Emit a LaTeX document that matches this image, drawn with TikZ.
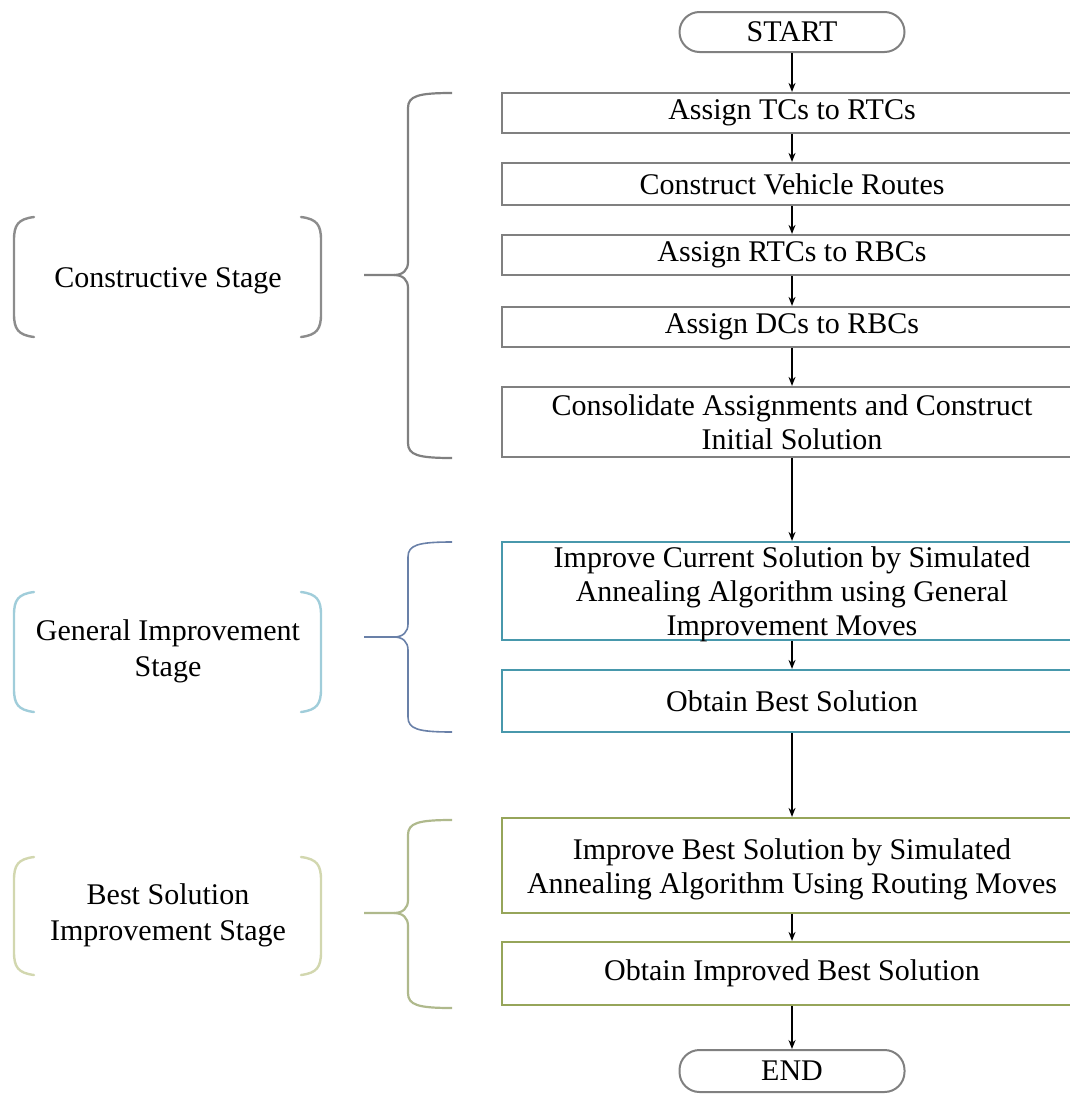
\documentclass[tikz,border=0pt]{standalone}
\usepackage{fontspec}
\setmainfont{Liberation Serif}
\usetikzlibrary{arrows.meta}

\definecolor{cgray}{RGB}{128,128,128}
\definecolor{cparen}{RGB}{140,140,140}
\definecolor{gbox}{RGB}{72,152,172}
\definecolor{gbrace}{RGB}{105,128,168}
\definecolor{gparen}{RGB}{160,205,218}
\definecolor{bbox}{RGB}{150,165,90}
\definecolor{bbrace}{RGB}{175,185,140}
\definecolor{bparen}{RGB}{210,215,175}

% multi-line box text: tight leading, sitting slightly low, no effect on box size
\newcommand\boxlines[1]{\raisebox{-10pt}[0pt][0pt]{\fontsize{30}{34}\selectfont
  \begin{tabular}{@{}c@{}}#1\end{tabular}}}

\tikzset{
  txt/.style={font=\fontsize{30}{36}\selectfont, text=black, align=center, inner sep=0pt},
  stepbox/.style={txt, draw=#1, line width=2.2pt, fill=white, minimum width=580pt},
  term/.style={txt, draw=cgray, line width=2pt, rounded corners=20pt, minimum width=225pt, minimum height=40pt},
  flow/.style={line width=1.4pt, black, -{Stealth[length=9pt,width=7pt]}},
  brace/.style={line width=2.2pt, #1},
  paren/.style={line width=2.4pt, #1, line cap=round},
}

\begin{document}
\begin{tikzpicture}[x=1pt, y=-1pt]
\useasboundingbox (0,0) rectangle (1070,1095);
\clip (0,0) rectangle (1070,1095);

% flow column
\node[term] (start) at (792,32) {START};
\node[stepbox=cgray, minimum height=40pt] (s1) at (792,113) {Assign TCs to RTCs};
\node[stepbox=cgray, minimum height=42pt] (s2) at (792,184) {Construct Vehicle Routes};
\node[stepbox=cgray, minimum height=40pt] (s3) at (792,255) {Assign RTCs to RBCs};
\node[stepbox=cgray, minimum height=40pt] (s4) at (792,327) {Assign DCs to RBCs};
\node[stepbox=cgray, minimum height=70pt] (s5) at (792,422) {\boxlines{Consolidate Assignments and Construct\\Initial Solution}};
\node[stepbox=gbox, minimum height=98pt] (g1) at (792,591) {\boxlines{Improve Current Solution by Simulated\\Annealing Algorithm using General\\Improvement Moves}};
\node[stepbox=gbox, minimum height=62pt] (g2) at (792,701) {Obtain Best Solution};
\node[stepbox=bbox, minimum height=95pt] (b1) at (792,865.5) {\boxlines{Improve Best Solution by Simulated\\Annealing Algorithm Using Routing Moves}};
\node[stepbox=bbox, minimum height=63pt] (b2) at (792,973.5) {Obtain Improved Best Solution};
\node[term, minimum height=42pt] (end) at (792,1071) {END};

\draw[flow] (start) -- (s1);
\draw[flow] (s1) -- (s2);
\draw[flow] (s2) -- (s3);
\draw[flow] (s3) -- (s4);
\draw[flow] (s4) -- (s5);
\draw[flow] (s5) -- (g1);
\draw[flow] (g1) -- (g2);
\draw[flow] (g2) -- (b1);
\draw[flow] (b1) -- (b2);
\draw[flow] (b2) -- (end);

% stage labels
\node[txt] (lc) at (168,281) {Constructive Stage};
\node[txt] (lg) at (168,651) {General Improvement\\Stage};
\node[txt] (lb) at (168,915) {Best Solution\\Improvement Stage};

% label brackets
\draw[paren=cparen] (34,217) .. controls (18,219) and (14,225) .. (14,240) -- (14,314) .. controls (14,329) and (18,335) .. (34,337);
\draw[paren=cparen] (301,217) .. controls (317,219) and (321,225) .. (321,240) -- (321,314) .. controls (321,329) and (317,335) .. (301,337);
\draw[paren=gparen] (34,592) .. controls (18,594) and (14,600) .. (14,615) -- (14,689) .. controls (14,704) and (18,710) .. (34,712);
\draw[paren=gparen] (301,592) .. controls (317,594) and (321,600) .. (321,615) -- (321,689) .. controls (321,704) and (317,710) .. (301,712);
\draw[paren=bparen] (34,857) .. controls (18,859) and (14,865) .. (14,880) -- (14,952) .. controls (14,967) and (18,973) .. (34,975);
\draw[paren=bparen] (301,857) .. controls (317,859) and (321,865) .. (321,880) -- (321,952) .. controls (321,967) and (317,973) .. (301,975);

% braces grouping the steps
\draw[brace=cgray] (452,93) .. controls (418,93) and (408,96) .. (408,108) -- (408,262)
  .. controls (408,270) and (403,275) .. (394,275) -- (364,275);
\draw[brace=cgray] (452,458) .. controls (418,458) and (408,455) .. (408,443) -- (408,288)
  .. controls (408,280) and (403,275) .. (394,275);
\draw[brace=gbrace, line width=1.6pt] (452,542) .. controls (418,542) and (408,545) .. (408,557) -- (408,624)
  .. controls (408,632) and (403,637) .. (394,637) -- (364,637);
\draw[brace=gbrace, line width=1.6pt] (452,732) .. controls (418,732) and (408,729) .. (408,717) -- (408,650)
  .. controls (408,642) and (403,637) .. (394,637);
\draw[brace=bbrace] (452,820) .. controls (418,820) and (408,823) .. (408,835) -- (408,900)
  .. controls (408,908) and (403,913) .. (394,913) -- (364,913);
\draw[brace=bbrace] (452,1008) .. controls (418,1008) and (408,1005) .. (408,993) -- (408,926)
  .. controls (408,918) and (403,913) .. (394,913);
\end{tikzpicture}
\end{document}
